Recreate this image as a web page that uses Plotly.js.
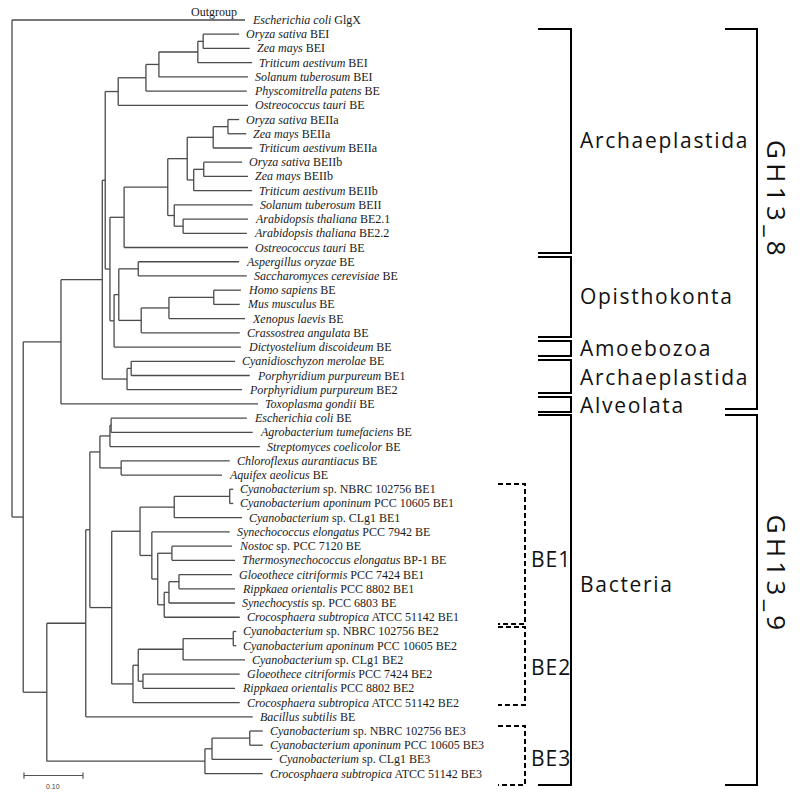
<!DOCTYPE html>
<html><head><meta charset="utf-8">
<script src="https://cdn.plot.ly/plotly-3.0.1.min.js"></script>
<style>html,body{margin:0;padding:0;background:#fff;} #chart{width:800px;height:793px;}</style>
</head><body><div id="chart"></div>
<script>
// ---------- leaves (top to bottom) ----------
const leafNames = [
 'Escherichia coli','Oryza sativa','Zea mays','Triticum aestivum','Solanum tuberosum',
 'Physcomitrella patens','Ostreococcus tauri','Oryza sativa','Zea mays','Triticum aestivum',
 'Oryza sativa','Zea mays','Triticum aestivum','Solanum tuberosum','Arabidopsis thaliana',
 'Arabidopsis thaliana','Ostreococcus tauri','Aspergillus oryzae','Saccharomyces cerevisiae','Homo sapiens',
 'Mus musculus','Xenopus laevis','Crassostrea angulata','Dictyostelium discoideum','Cyanidioschyzon merolae',
 'Porphyridium purpureum','Porphyridium purpureum','Toxoplasma gondii','Escherichia coli','Agrobacterium tumefaciens',
 'Streptomyces coelicolor','Chloroflexus aurantiacus','Aquifex aeolicus','Cyanobacterium','Cyanobacterium aponinum',
 'Cyanobacterium','Synechococcus elongatus','Nostoc','Thermosynechococcus elongatus','Gloeothece citriformis',
 'Rippkaea orientalis','Synechocystis','Crocosphaera subtropica','Cyanobacterium','Cyanobacterium aponinum',
 'Cyanobacterium','Gloeothece citriformis','Rippkaea orientalis','Crocosphaera subtropica','Bacillus subtilis',
 'Cyanobacterium','Cyanobacterium aponinum','Cyanobacterium','Crocosphaera subtropica'
];
const leafTags = [
 'GlgX','BEI','BEI','BEI','BEI',
 'BE','BE','BEIIa','BEIIa','BEIIa',
 'BEIIb','BEIIb','BEIIb','BEII','BE2.1',
 'BE2.2','BE','BE','BE','BE',
 'BE','BE','BE','BE','BE',
 'BE1','BE2','BE','BE','BE',
 'BE','BE','BE','sp. NBRC 102756 BE1','PCC 10605 BE1',
 'sp. CLg1 BE1','PCC 7942 BE','sp. PCC 7120 BE','BP-1 BE','PCC 7424 BE1',
 'PCC 8802 BE1','sp. PCC 6803 BE','ATCC 51142 BE1','sp. NBRC 102756 BE2','PCC 10605 BE2',
 'sp. CLg1 BE2','PCC 7424 BE2','PCC 8802 BE2','ATCC 51142 BE2','BE',
 'sp. NBRC 102756 BE3','PCC 10605 BE3','sp. CLg1 BE3','ATCC 51142 BE3'
];
// distance of each tip from the root (substitutions per site)
const leafDepth = [
 0.395,0.385,0.403,0.407,0.400,
 0.398,0.400,0.385,0.397,0.407,
 0.390,0.400,0.407,0.408,0.400,
 0.398,0.400,0.385,0.398,0.388,
 0.386,0.395,0.386,0.388,0.378,
 0.403,0.390,0.417,0.398,0.408,
 0.420,0.369,0.356,0.375,0.375,
 0.390,0.369,0.373,0.378,0.373,
 0.378,0.378,0.386,0.380,0.380,
 0.395,0.386,0.378,0.386,0.408,
 0.425,0.425,0.441,0.425
];

// ---------- internal nodes ----------
const nodeNames = ['root','ingroup','gh8','x102','x105','bei','np','ns1','ozt1','oz1',
 'x110','beii','n2all','n2ab','n2a','oz2a','n2b','oz2b','nsa','arab',
 'x114','opis','asc','meta','vert','hm','porph','cp',
 'bact','b86','b90','b100','b110','ea','b121','cyano','be1','t1','p1','b152','b158','nt','b164','b169','gr',
 'be2','b138','t2','p2','gr2','be3','s3','p3'];
const nodeKids = [[0,'ingroup'],['gh8','bact'],['x102',27],['x105','porph'],['bei','x110'],['np',6],['ns1',5],['ozt1',4],['oz1',3],[1,2],
 ['beii','x114'],['n2all',16],['n2ab','nsa'],['n2a','n2b'],['oz2a',9],[7,8],['oz2b',12],[10,11],[13,'arab'],[14,15],
 ['opis',23],['asc','meta'],[17,18],['vert',22],['hm',21],[19,20],['cp',26],[24,25],
 ['b86','be3'],['b90',49],['b100','cyano'],['b110','b121'],['ea',30],[28,29],[31,32],['be1','be2'],['t1','b152'],['p1',35],[33,34],[36,'b158'],['nt','b164'],[37,38],['b169',42],['gr',41],[39,40],
 ['b138',48],['t2','gr2'],['p2',45],[43,44],[46,47],['s3',53],['p3',52],[50,51]];
const nodeDepth = [0.000,0.019,0.083,0.153,0.158,0.180,0.227,0.249,0.315,0.324,
 0.166,0.190,0.264,0.297,0.341,0.366,0.308,0.325,0.275,0.290,
 0.173,0.181,0.214,0.219,0.266,0.342,0.195,0.202,
 0.059,0.125,0.132,0.149,0.166,0.168,0.185,0.169,0.217,0.275,0.369,0.237,0.247,0.271,0.258,0.266,0.283,
 0.205,0.214,0.290,0.375,0.222,0.327,0.339,0.403];

// ---------- clade brackets (in leaf-row units) ----------
const groupNames = ['Archaeplastida','Opisthokonta','Amoebozoa','Archaeplastida','Alveolata','Bacteria'];
const groupFrom  = [0.63, 16.67, 22.57, 23.91, 26.51, 27.78];
const groupTo    = [16.39, 22.29, 23.63, 26.23, 27.57, 53.80];
const groupLabelAt = [8.45, 19.40, 23.07, 25.10, 27.05, 39.66];

const familyNames = ['GH13_8','GH13_9'];
const familyFrom  = [0.63, 27.78];
const familyTo    = [27.36, 53.80];
const familyLabelAt = [12.66, 39.0];

const typeNames = ['BE1','BE2','BE3'];
const typeFrom  = [32.63, 42.69, 49.65];
const typeTo    = [42.48, 48.17, 53.80];
const typeLabelAt = [37.9, 45.5, 51.9];

const scaleLength = 0.10;
const scaleLabel = '0.10';
const outgroupLabel = 'Outgroup';

// ---------- build tree geometry ----------
const depthOf = {};
leafDepth.forEach((d,i)=>{ depthOf[i]=d; });
nodeNames.forEach((n,k)=>{ depthOf[n]=nodeDepth[k]; });
const yCache = {};
function getY(id){
  if (typeof id === 'number') return id;
  if (yCache[id] !== undefined) return yCache[id];
  const kids = nodeKids[nodeNames.indexOf(id)];
  const ys = kids.map(getY);
  yCache[id] = (ys[0] + ys[ys.length-1]) / 2;
  return yCache[id];
}
const tx = [], ty = [];
nodeNames.forEach((n,k)=>{
  const d = nodeDepth[k];
  const kids = nodeKids[k];
  const ky = kids.map(getY);
  tx.push(d, d, null); ty.push(ky[0], ky[ky.length-1], null);
  kids.forEach((c,j)=>{ tx.push(d, depthOf[c], null); ty.push(ky[j], ky[j], null); });
});

const scaleStart = 0.0203, scaleY = 53.13, tickH = 0.22;
const sx = [scaleStart, scaleStart+scaleLength, null, scaleStart, scaleStart, null, scaleStart+scaleLength, scaleStart+scaleLength];
const sy = [scaleY, scaleY, null, scaleY-tickH, scaleY+tickH, null, scaleY-tickH, scaleY+tickH];

const traces = [
  {type:'scatter', mode:'lines', x:tx, y:ty, line:{color:'#4a4a4a', width:1.3}, hoverinfo:'skip'},
  {type:'scatter', mode:'lines', x:sx, y:sy, line:{color:'#555', width:1.2}, hoverinfo:'skip'}
];

const serif = 'Liberation Serif, Times New Roman, serif';
const sans = 'Open Sans, Noto Sans, sans-serif';
const annotations = [];
const spacing = [];
leafNames.forEach((n,i)=>{
  annotations.push({x:leafDepth[i], y:i, xref:'x', yref:'y', text:'<i>'+n+'</i> '+leafTags[i],
    showarrow:false, xanchor:'left', yanchor:'middle', align:'left', xshift:5,
    font:{family:serif, size:12, color:'#1a1a1a'}});
});
annotations.push({x:leafDepth[0], y:0, xref:'x', yref:'y', text:outgroupLabel, showarrow:false,
  xanchor:'right', yanchor:'middle', xshift:-6, yshift:8, font:{family:serif, size:12, color:'#1a1a1a'}});
annotations.push({x:scaleStart+scaleLength/2, y:scaleY, xref:'x', yref:'y', text:scaleLabel, showarrow:false,
  xanchor:'center', yanchor:'middle', yshift:-11, font:{family:'Liberation Sans, Arial, sans-serif', size:7, color:'#444'}});

const shapes = [];
const gx0 = 0.6725, gx1 = 0.71375, fx0 = 0.90625, fx1 = 0.94625, bx0 = 0.6225, bx1 = 0.65625;
function bracket(x0, x1, a, b, dash){
  shapes.push({type:'path', xref:'paper', yref:'y',
    path:`M ${x0} ${a} L ${x1} ${a} L ${x1} ${b} L ${x0} ${b}`,
    line:{color:'#000', width:2, dash:dash||'solid'}});
}
groupNames.forEach((g,i)=>{
  bracket(gx0, gx1, groupFrom[i], groupTo[i]);
  spacing.push([annotations.length, 1.7]);
  annotations.push({x:0.7225, y:groupLabelAt[i], xref:'paper', yref:'y', text:g, showarrow:false,
    xanchor:'left', yanchor:'middle', align:'left', font:{family:sans, size:21, color:'#111'}});
});
familyNames.forEach((g,i)=>{
  bracket(fx0, fx1, familyFrom[i], familyTo[i]);
  spacing.push([annotations.length, 4.3]);
  annotations.push({x:0.97125, y:familyLabelAt[i], xref:'paper', yref:'y', text:g, showarrow:false,
    textangle:90, xanchor:'center', yanchor:'middle', font:{family:sans, size:26, color:'#111'}});
});
typeNames.forEach((g,i)=>{
  bracket(bx0, bx1, typeFrom[i], typeTo[i], '5px,3px');
  spacing.push([annotations.length, 1]);
  annotations.push({x:0.66125, y:typeLabelAt[i], xref:'paper', yref:'y', text:g, showarrow:false,
    xanchor:'left', yanchor:'middle', align:'left', font:{family:sans, size:21, color:'#111'}});
});

const st = document.createElement('style');
st.textContent = spacing.map(([i,s])=>`.annotation[data-index="${i}"] text{letter-spacing:${s}px;}`).join('\n');
document.head.appendChild(st);

const layout = {
  width:800, height:793, margin:{l:0,r:0,t:0,b:0},
  paper_bgcolor:'#fff', plot_bgcolor:'#fff', showlegend:false,
  xaxis:{range:[-12/590, 788/590], visible:false, fixedrange:true},
  yaxis:{range:[(793-20)/14.22, -20/14.22], visible:false, fixedrange:true},
  annotations, shapes
};
Plotly.newPlot('chart', traces, layout, {staticPlot:true, displayModeBar:false});
</script></body></html>
